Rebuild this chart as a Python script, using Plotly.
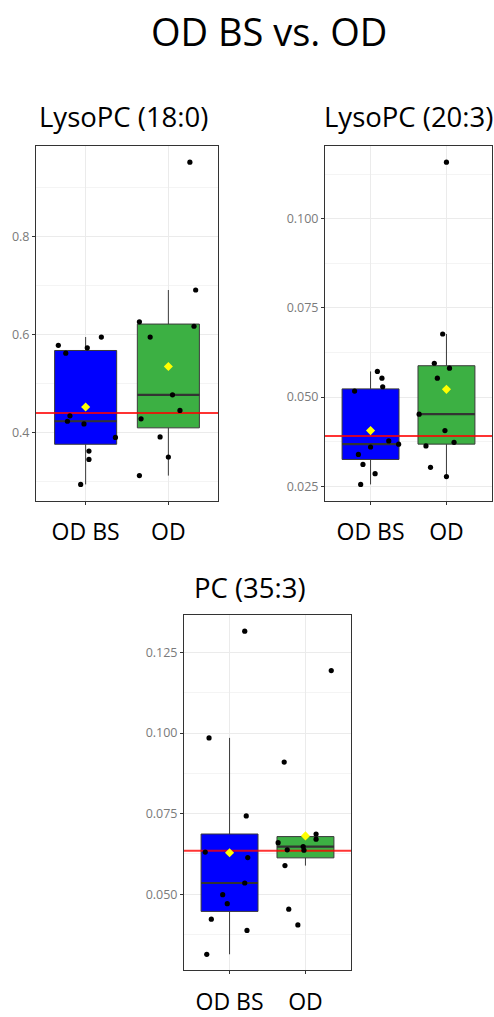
import numpy as np
import plotly.graph_objects as go

# ---------------- data ----------------
groups = ["OD BS", "OD"]
panel_titles = ["LysoPC (18:0)", "LysoPC (20:3)", "PC (35:3)"]
main_title = "OD BS vs. OD"

# LysoPC (18:0)
lyso180_odbs = [0.578, 0.562, 0.573, 0.595, 0.434, 0.423, 0.4175, 0.390, 0.362, 0.345, 0.294]
lyso180_odbs_jit = [-0.33, -0.24, 0.02, 0.19, -0.19, -0.22, -0.02, 0.36, 0.04, 0.04, -0.06]
lyso180_od = [0.952, 0.691, 0.626, 0.617, 0.595, 0.477, 0.445, 0.428, 0.391, 0.350, 0.312]
lyso180_od_jit = [0.26, 0.33, -0.35, 0.31, -0.22, 0.05, 0.14, -0.33, -0.10, 0.0, -0.35]

# LysoPC (20:3)
lyso203_odbs = [0.0517, 0.0572, 0.0553, 0.0529, 0.0377, 0.0368, 0.0360, 0.0339, 0.0311, 0.0285, 0.0255]
lyso203_odbs_jit = [-0.21, 0.09, 0.15, 0.16, 0.24, 0.37, 0.0, -0.16, -0.10, 0.06, -0.13]
lyso203_od = [0.1159, 0.0677, 0.0595, 0.0581, 0.0553, 0.0452, 0.0406, 0.0373, 0.0363, 0.0303, 0.0277]
lyso203_od_jit = [0.0, -0.05, -0.16, 0.04, -0.12, -0.36, -0.02, 0.10, -0.27, -0.21, 0.0]

# PC (35:3)
pc353_odbs = [0.1316, 0.0985, 0.0743, 0.0631, 0.0614, 0.0535, 0.0499, 0.0471, 0.0423, 0.0388, 0.0314]
pc353_odbs_jit = [0.20, -0.27, 0.22, -0.32, 0.24, 0.20, -0.09, -0.03, -0.24, 0.23, -0.30]
pc353_od = [0.1194, 0.0910, 0.0687, 0.0671, 0.0660, 0.0638, 0.0648, 0.0637, 0.0589, 0.0454, 0.0405]
pc353_od_jit = [0.34, -0.28, 0.14, 0.14, -0.36, -0.24, -0.03, -0.02, -0.27, -0.22, -0.10]

# red reference lines
ref_values = [0.440, 0.0391, 0.0635]

# y tick values / labels
ticks_p1 = [0.4, 0.6, 0.8]
labels_p1 = ["0.4", "0.6", "0.8"]
ticks_p2 = [0.025, 0.050, 0.075, 0.100]
labels_p2 = ["0.025", "0.050", "0.075", "0.100"]
ticks_p3 = [0.050, 0.075, 0.100, 0.125]
labels_p3 = ["0.050", "0.075", "0.100", "0.125"]

# ---------------- layout helpers ----------------
W, H = 494, 1017
FONT = "Open Sans"
box_colors = ["#0000FF", "#3CB043"]
BOX_W = 0.75


def fx(p):
    return p / W


def fy(p):
    return 1 - p / H


panels = [
    dict(title=panel_titles[0], data=[lyso180_odbs, lyso180_od], jit=[lyso180_odbs_jit, lyso180_od_jit],
         ref=ref_values[0], ticks=ticks_p1, labels=labels_p1,
         xpx=(36, 218), ypx=(148, 507), tpos=(123, 118)),
    dict(title=panel_titles[1], data=[lyso203_odbs, lyso203_od], jit=[lyso203_odbs_jit, lyso203_od_jit],
         ref=ref_values[1], ticks=ticks_p2, labels=labels_p2,
         xpx=(325, 492), ypx=(148, 507), tpos=(408, 118)),
    dict(title=panel_titles[2], data=[pc353_odbs, pc353_od], jit=[pc353_odbs_jit, pc353_od_jit],
         ref=ref_values[2], ticks=ticks_p3, labels=labels_p3,
         xpx=(184, 351), ypx=(623, 983), tpos=(250, 595)),
]

fig = go.Figure()
layout_axes = {}
annotations = []
XR = [0.4, 2.6]

for i, p in enumerate(panels):
    n = i + 1
    xa = "x" if n == 1 else f"x{n}"
    ya = "y" if n == 1 else f"y{n}"
    allv = np.concatenate([np.array(d) for d in p["data"]])
    span = allv.max() - allv.min()
    yr = [allv.min() - 0.05 * span, allv.max() + 0.05 * span]

    for g, (vals, jit) in enumerate(zip(p["data"], p["jit"])):
        pos = g + 1
        v = np.array(vals)
        q1, med, q3 = np.percentile(v, [25, 50, 75])
        iqr = q3 - q1
        lf = v[v >= q1 - 1.5 * iqr].min()
        uf = v[v <= q3 + 1.5 * iqr].max()
        fig.add_trace(go.Box(
            x=[pos], q1=[q1], median=[med], q3=[q3], lowerfence=[lf], upperfence=[uf],
            width=BOX_W, whiskerwidth=0, boxpoints=False,
            fillcolor=box_colors[g], line=dict(color="#3a3a3a", width=1),
            xaxis=xa, yaxis=ya, showlegend=False, hoverinfo="skip"))
        fig.add_trace(go.Scatter(
            x=[pos - BOX_W / 2, pos + BOX_W / 2], y=[med, med], mode="lines",
            line=dict(color="#333333", width=2.2), xaxis=xa, yaxis=ya,
            showlegend=False, hoverinfo="skip"))

    # red reference line
    fig.add_trace(go.Scatter(
        x=XR, y=[p["ref"], p["ref"]], mode="lines",
        line=dict(color="rgba(255,0,0,0.8)", width=2), xaxis=xa, yaxis=ya,
        showlegend=False, hoverinfo="skip"))

    for g, (vals, jit) in enumerate(zip(p["data"], p["jit"])):
        pos = g + 1
        fig.add_trace(go.Scatter(
            x=[pos + j for j in jit], y=vals, mode="markers",
            marker=dict(color="black", size=5.2), xaxis=xa, yaxis=ya,
            showlegend=False, hoverinfo="skip"))
        fig.add_trace(go.Scatter(
            x=[pos], y=[float(np.mean(vals))], mode="markers",
            marker=dict(color="#FFFF00", size=7, symbol="diamond"), xaxis=xa, yaxis=ya,
            showlegend=False, hoverinfo="skip"))

    t = np.array(p["ticks"])
    step = t[1] - t[0]
    minor_vals = list(np.concatenate([[t[0] - step / 2], t + step / 2]))

    layout_axes["xaxis" if n == 1 else f"xaxis{n}"] = dict(
        domain=[fx(p["xpx"][0]), fx(p["xpx"][1])], anchor=ya, range=XR,
        tickmode="array", tickvals=[1, 2], ticktext=groups,
        tickfont=dict(family=FONT, size=23, color="black"),
        ticks="outside", ticklen=3, tickcolor="#333333", ticklabelstandoff=8,
        showgrid=True, gridcolor="#EBEBEB", gridwidth=1, zeroline=False,
        showline=True, mirror=True, linecolor="#333333", linewidth=1, fixedrange=True)
    layout_axes["yaxis" if n == 1 else f"yaxis{n}"] = dict(
        domain=[fy(p["ypx"][1]), fy(p["ypx"][0])], anchor=xa, range=yr,
        tickmode="array", tickvals=p["ticks"], ticktext=p["labels"],
        tickfont=dict(family=FONT, size=12.5, color="#7a7a7a"),
        ticks="outside", ticklen=3, tickcolor="#333333",
        showgrid=True, gridcolor="#EBEBEB", gridwidth=1, zeroline=False,
        minor=dict(tickmode="array", tickvals=minor_vals, showgrid=True,
                   gridcolor="#F4F4F4", gridwidth=0.6, ticks=""),
        showline=True, mirror=True, linecolor="#333333", linewidth=1, fixedrange=True)

    annotations.append(dict(
        text=p["title"], x=fx(p["tpos"][0]), y=fy(p["tpos"][1]), xref="paper", yref="paper",
        xanchor="center", yanchor="middle", showarrow=False,
        font=dict(family=FONT, size=27.5, color="black")))

annotations.append(dict(
    text=main_title, x=fx(269), y=fy(31), xref="paper", yref="paper",
    xanchor="center", yanchor="middle", showarrow=False,
    font=dict(family=FONT, size=38, color="black")))

fig.update_layout(
    width=W, height=H, autosize=False,
    margin=dict(l=0, r=0, t=0, b=0),
    paper_bgcolor="white", plot_bgcolor="white",
    annotations=annotations, showlegend=False,
    **layout_axes)

fig.write_html(
    "out.html",
    config={"displayModeBar": False},
    post_script="document.body.style.margin='0';document.body.style.overflow='hidden';",
)
